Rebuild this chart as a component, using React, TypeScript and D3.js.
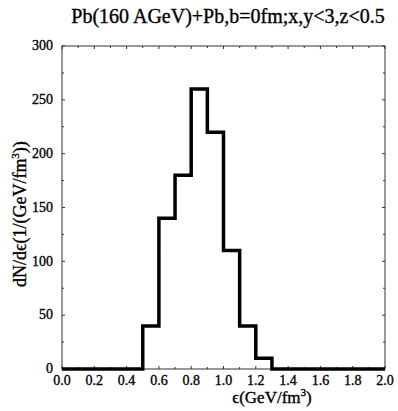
import { useMemo } from 'react';
import * as d3 from 'd3';

// histogram bins, width 0.1 GeV/fm^3
const binEdges = [0.0, 0.1, 0.2, 0.3, 0.4, 0.5, 0.6, 0.7, 0.8, 0.9, 1.0, 1.1, 1.2, 1.3, 1.4, 1.5, 1.6, 1.7, 1.8, 1.9, 2.0];
const counts = [0, 0, 0, 0, 0, 40, 140, 180, 260, 220, 110, 40, 10, 0, 0, 0, 0, 0, 0, 0];

const xTickLabels = ['0.0', '0.2', '0.4', '0.6', '0.8', '1.0', '1.2', '1.4', '1.6', '1.8', '2.0'];
const xMinorTicks = [0.1, 0.3, 0.5, 0.7, 0.9, 1.1, 1.3, 1.5, 1.7, 1.9];
const yTickLabels = [0, 50, 100, 150, 200, 250, 300];
const yMinorTicks = [25, 75, 125, 175, 225, 275];

const title = 'Pb(160 AGeV)+Pb,b=0fm;x,y<3,z<0.5';

const W = 398;
const H = 411;
const margin = { top: 46, right: 13, bottom: 42, left: 62 };
const font = '"Liberation Serif", "Times New Roman", serif';

export default function App() {
  const gw = W - margin.left - margin.right;
  const gh = H - margin.top - margin.bottom;

  const x = useMemo(() => d3.scaleLinear().domain([0, 2]).range([0, gw]), [gw]);
  const y = useMemo(() => d3.scaleLinear().domain([0, 300]).range([gh, 0]), [gh]);

  // step outline of the histogram
  const pts: [number, number][] = counts.map((c, i) => [binEdges[i], c]);
  pts.push([binEdges[binEdges.length - 1], counts[counts.length - 1]]);
  const line = d3
    .line<[number, number]>()
    .x((d) => x(d[0]))
    .y((d) => y(d[1]))
    .curve(d3.curveStepAfter);

  const tickLen = 3;
  const axisCol = '#333';
  // scanned text looks a bit heavy
  const ink = { fill: '#000', stroke: '#000', strokeWidth: 0.35 };

  return (
    <svg width={W} height={H} style={{ position: 'absolute', left: 0, top: 0, background: '#fff' }}>
      <text x={228} y={23} textAnchor="middle" fontFamily={font} fontSize={20} {...ink}>
        {title}
      </text>
      <g transform={`translate(${margin.left},${margin.top})`}>
        <rect x={0} y={0} width={gw} height={gh} fill="none" stroke={axisCol} strokeWidth={1} />
        {/* x ticks, both sides, inward */}
        {xTickLabels.map((t) => (
          <g key={'xt' + t}>
            <line x1={x(+t)} x2={x(+t)} y1={gh} y2={gh - tickLen} stroke={axisCol} />
            <line x1={x(+t)} x2={x(+t)} y1={0} y2={tickLen} stroke={axisCol} />
            <text x={x(+t)} y={gh + 16} textAnchor="middle" fontFamily={font} fontSize={14} {...ink}>
              {t}
            </text>
          </g>
        ))}
        {xMinorTicks.map((t) => (
          <g key={'xm' + t}>
            <line x1={x(t)} x2={x(t)} y1={gh} y2={gh - 2} stroke={axisCol} />
            <line x1={x(t)} x2={x(t)} y1={0} y2={2} stroke={axisCol} />
          </g>
        ))}
        {yTickLabels.map((t) => (
          <g key={'yt' + t}>
            <line x1={0} x2={tickLen} y1={y(t)} y2={y(t)} stroke={axisCol} />
            <line x1={gw} x2={gw - tickLen} y1={y(t)} y2={y(t)} stroke={axisCol} />
            <text x={-9} y={y(t)} dy="0.3em" textAnchor="end" fontFamily={font} fontSize={14} {...ink}>
              {t}
            </text>
          </g>
        ))}
        {yMinorTicks.map((t) => (
          <g key={'ym' + t}>
            <line x1={0} x2={2} y1={y(t)} y2={y(t)} stroke={axisCol} />
            <line x1={gw} x2={gw - 2} y1={y(t)} y2={y(t)} stroke={axisCol} />
          </g>
        ))}
        <path d={line(pts) ?? ''} fill="none" stroke="#000" strokeWidth={3.5} strokeLinejoin="miter" />
      </g>
      <text x={272} y={403} textAnchor="middle" fontFamily={font} fontSize={17} {...ink}>
        ϵ(GeV/fm<tspan dy={-7} fontSize={11}>3</tspan>
        <tspan dy={7}>)</tspan>
      </text>
      <text transform={`translate(26,214) rotate(-90)`} textAnchor="middle" fontFamily={font} fontSize={18} {...ink}>
        dN/dϵ(1/(GeV/fm<tspan dy={-7} fontSize={11}>3</tspan>
        <tspan dy={7}>))</tspan>
      </text>
    </svg>
  );
}
